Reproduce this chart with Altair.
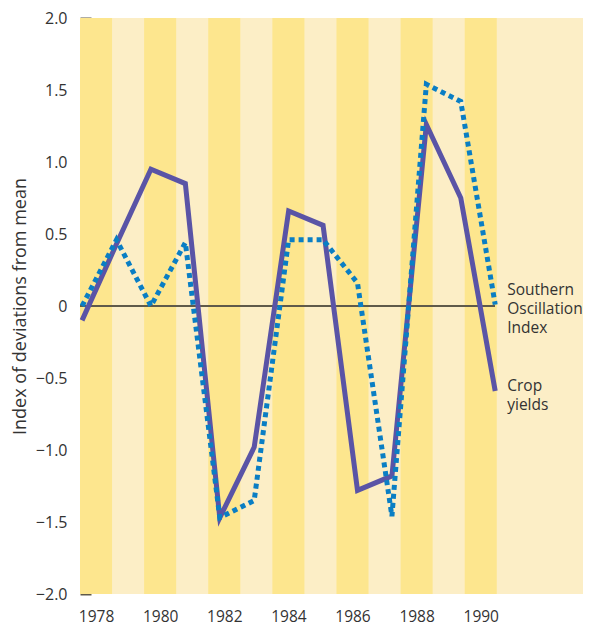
import altair as alt
import pandas as pd

years = list(range(1978, 1991))
crop_yields = [-0.10, 0.43, 0.95, 0.85, -1.47, -0.98, 0.66, 0.56, -1.28, -1.18, 1.26, 0.75, -0.59]
soi = [0.00, 0.46, 0.00, 0.44, -1.47, -1.35, 0.46, 0.46, 0.16, -1.46, 1.54, 1.42, 0.01]
band_years = [1978, 1980, 1982, 1984, 1986, 1988, 1990]
y_ticks = [-2.0, -1.5, -1.0, -0.5, 0.0, 0.5, 1.0, 1.5, 2.0]
x_ticks = [1978, 1980, 1982, 1984, 1986, 1988, 1990]

FONT = "Open Sans"
DARK_BAND = "#FDE68E"
LIGHT_BAND = "#FCEEC6"
PURPLE = "#5A54A6"
BLUE = "#0A7EC4"

W, H = 503, 576

df = pd.DataFrame({"year": years, "crop": crop_yields, "soi": soi})
bands = pd.DataFrame({"start": [y - 0.5 for y in band_years], "end": [y + 0.5 for y in band_years]})

band_x = alt.Scale(domain=[1977.5, 1993.19], nice=False, zero=False)
line_x = alt.Scale(domain=[1977.94, 1992.55], nice=False, zero=False)
y_scale = alt.Scale(domain=[-2, 2], nice=False, zero=False)

band_layer = alt.Chart(bands).mark_rect(color=DARK_BAND).encode(
    x=alt.X("start:Q", scale=band_x,
            axis=alt.Axis(values=x_ticks, format="d", title=None, ticks=False, tickSize=0,
                          domain=False, grid=False, labelPadding=15, labelFontSize=15.5,
                          labelFont=FONT, labelColor="#333333")),
    x2="end:Q",
    y=alt.value(0),
    y2=alt.value(H),
)

base = alt.Chart(df)
crop_line = base.mark_line(color=PURPLE, strokeWidth=5, strokeJoin="miter").encode(
    x=alt.X("year:Q", scale=line_x, axis=None),
    y=alt.Y("crop:Q", scale=y_scale,
            axis=alt.Axis(values=y_ticks, title="Index of deviations from mean",
                          labelExpr="datum.value == 0 ? '0' : format(datum.value, '.1f')",
                          offset=-11, tickSize=11, tickWidth=2, tickColor="#5F5A4A",
                          domain=False, grid=False, labelPadding=13, labelFontSize=16,
                          labelFont=FONT, labelColor="#333333", titleFont=FONT,
                          titleFontSize=18, titleFontWeight="normal", titleColor="#333333",
                          titlePadding=6)),
)
soi_line = base.mark_line(color=BLUE, strokeWidth=5, strokeDash=[5, 4], strokeCap="butt").encode(
    x=alt.X("year:Q", scale=line_x, axis=None),
    y=alt.Y("soi:Q", scale=y_scale),
)
zero_rule = alt.Chart(pd.DataFrame({"v": [0.0]})).mark_rule(color="#5F5A4A", strokeWidth=2).encode(
    y=alt.Y("v:Q", scale=y_scale),
    x=alt.value(0),
    x2=alt.value(415),
)

end = df[df.year == 1990]
soi_label = alt.Chart(end).mark_text(
    align="left", baseline="top", dx=12, dy=-22, font=FONT, fontSize=15.5,
    lineHeight=19, color="#333333"
).encode(
    x=alt.X("year:Q", scale=line_x),
    y=alt.Y("soi:Q", scale=y_scale),
    text=alt.value(["Southern", "Oscillation", "Index"]),
)
crop_label = alt.Chart(end).mark_text(
    align="left", baseline="top", dx=12, dy=-12, font=FONT, fontSize=15.5,
    lineHeight=19, color="#333333"
).encode(
    x=alt.X("year:Q", scale=line_x),
    y=alt.Y("crop:Q", scale=y_scale),
    text=alt.value(["Crop", "yields"]),
)

lines = alt.layer(zero_rule, crop_line, soi_line, soi_label, crop_label)

chart = alt.layer(band_layer, lines).resolve_scale(x="independent").properties(
    width=W, height=H,
    autosize=alt.AutoSizeParams(type="none"),
    padding={"left": 72, "top": 10, "right": 0, "bottom": 33},
).configure_view(fill=LIGHT_BAND, stroke=None)

chart.save("out.html", embed_options={"renderer": "svg", "actions": False})
